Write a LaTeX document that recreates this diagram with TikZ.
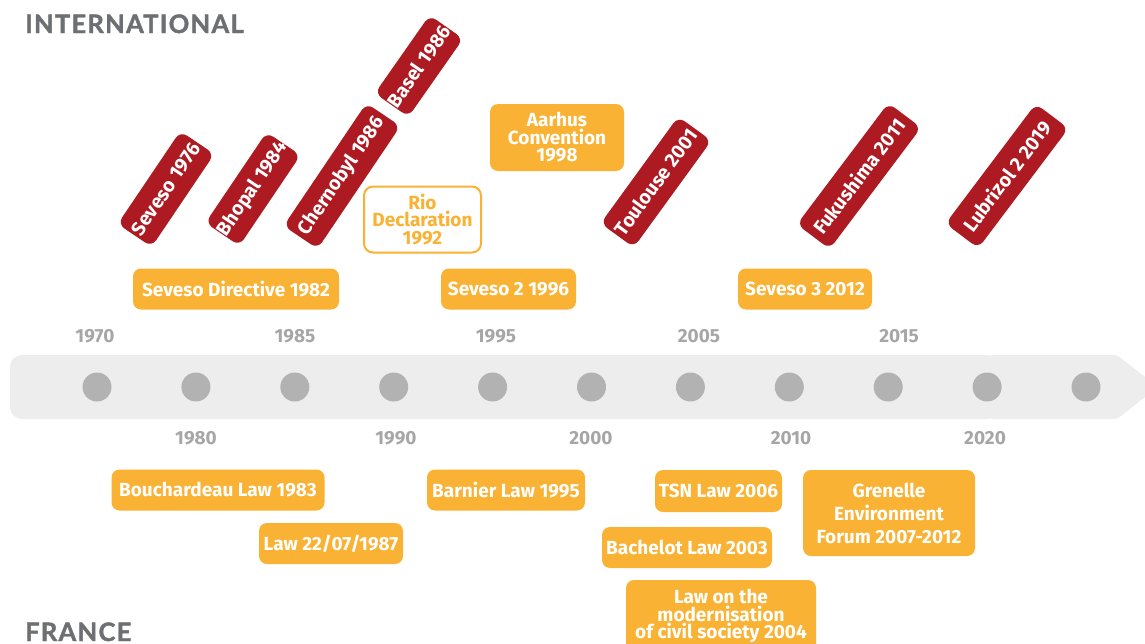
\documentclass[tikz,border=0pt]{standalone}
\usepackage{fontspec}
\setmainfont{Fira Sans}
\newfontfamily\semibfam{Fira Sans}
\newcommand\semib{\semibfam\bfseries}
\newfontfamily\headfont{Lato}[LetterSpace=5, FakeBold=1.6]
\definecolor{tlorange}{HTML}{F9B233}
\definecolor{tlred}{HTML}{AE1A22}
\definecolor{tlband}{HTML}{EDEDED}
\definecolor{tldot}{HTML}{B2B2B2}
\definecolor{tlyear}{HTML}{A6A6A6}
\definecolor{tlhead}{HTML}{6D6F72}
\newcommand\boxfnt{\semib\fontsize{19}{17.5}\selectfont}
\newcommand\redfnt{\semib\fontsize{19.5}{19}\selectfont}
\tikzset{
  obox/.style={fill=tlorange, rounded corners=8pt, text=white, font=\boxfnt,
    inner sep=0pt, align=center, minimum height=41pt},
  riobox/.style={draw=tlorange, line width=2pt, fill=white, rounded corners=9pt,
    text=tlorange, font=\boxfnt, inner sep=0pt, align=center},
  rbox/.style={fill=tlred, rounded corners=8pt, text=white, font=\redfnt,
    inner sep=0pt, minimum height=41pt},
  yearlbl/.style={text=tlyear, font=\boxfnt, anchor=base, inner sep=0pt},
  ydot/.style={circle, fill=tldot, minimum size=29pt, inner sep=0pt},
  headlbl/.style={text=tlhead, font={\headfont\bfseries\fontsize{25.5}{25}\selectfont},
    anchor=base west, inner sep=0pt}
}
\begin{document}
\begin{tikzpicture}[x=1pt, y=-1pt]
\useasboundingbox (0,0) rectangle (1145,643);
% timeline band
\fill[tlband, rounded corners=12pt] (10,355) rectangle (1000,419);
\fill[tlband, rounded corners=3pt] (990,355) -- (1117,355) -- (1158,387) -- (1117,419) -- (990,419) -- cycle;
% dots
\foreach \i in {0,...,10} {
  \node[ydot] (d\i) at ({97+98.9*\i},387) {};
}
% year labels
\node[yearlbl] (y1970) at (95,342) {1970};
\node[yearlbl] (y1985) at (295,342) {1985};
\node[yearlbl] (y1995) at (496,342) {1995};
\node[yearlbl] (y2005) at (699,342) {2005};
\node[yearlbl] (y2015) at (899,342) {2015};
\node[yearlbl] (y1980) at (196,444) {1980};
\node[yearlbl] (y1990) at (396,444) {1990};
\node[yearlbl] (y2000) at (591,444) {2000};
\node[yearlbl] (y2010) at (791,444) {2010};
\node[yearlbl] (y2020) at (985,444) {2020};
% headings
\node[headlbl] (intl) at (25,33) {INTERNATIONAL};
\node[headlbl] (france) at (25,641) {FRANCE};
% international orange boxes
\node[obox, minimum width=206pt] (sevdir) at (236,289) {Seveso Directive 1982};
\node[obox, minimum width=135pt] (sev2) at (508.5,289) {Seveso 2 1996};
\node[obox, minimum width=134pt] (sev3) at (805,289) {Seveso 3 2012};
\node[obox, minimum width=134pt, minimum height=67pt] (aarhus) at (557,137.5) {Aarhus\\Convention\\1998};
\node[riobox, minimum width=117pt, minimum height=66pt] (rio) at (422.5,219.5) {Rio\\Declaration\\1992};
% red accident boxes
\node[rbox, rotate=56, minimum width=112pt] (seveso) at (166,189) {Seveso 1976};
\node[rbox, rotate=56, minimum width=108pt] (bhopal) at (253,189) {Bhopal 1984};
\node[rbox, rotate=56, minimum width=148pt] (chern) at (342,176) {Chernobyl 1986};
\node[rbox, rotate=55, minimum width=88pt] (basel) at (419,66) {Basel 1986};
\node[rbox, rotate=54, minimum width=132pt] (toul) at (656,182) {Toulouse 2001};
\node[rbox, rotate=53, minimum width=152pt] (fuku) at (859,176) {Fukushima 2011};
\node[rbox, rotate=53, minimum width=150pt] (lubri) at (1007,176) {Lubrizol 2 2019};
% France boxes
\node[obox, minimum width=213pt] (bouch) at (218,490) {Bouchardeau Law 1983};
\node[obox, minimum width=144pt] (law87) at (331,543.5) {Law 22/07/1987};
\node[obox, minimum width=158pt] (barnier) at (506,490) {Barnier Law 1995};
\node[obox, minimum width=127pt, minimum height=42pt] (tsn) at (718.5,491) {TSN Law 2006};
\node[obox, minimum width=170pt] (bachelot) at (687,547.5) {Bachelot Law 2003};
\node[obox, minimum width=190pt, minimum height=72pt] (modern) at (721,616) {Law on the\\modernisation\\of civil society 2004};
\node[obox, minimum width=172pt, minimum height=86pt,
  font={\semib\fontsize{19}{23}\selectfont}] (grenelle) at (889,513) {Grenelle\\Environment\\Forum 2007-2012};
\end{tikzpicture}
\end{document}
